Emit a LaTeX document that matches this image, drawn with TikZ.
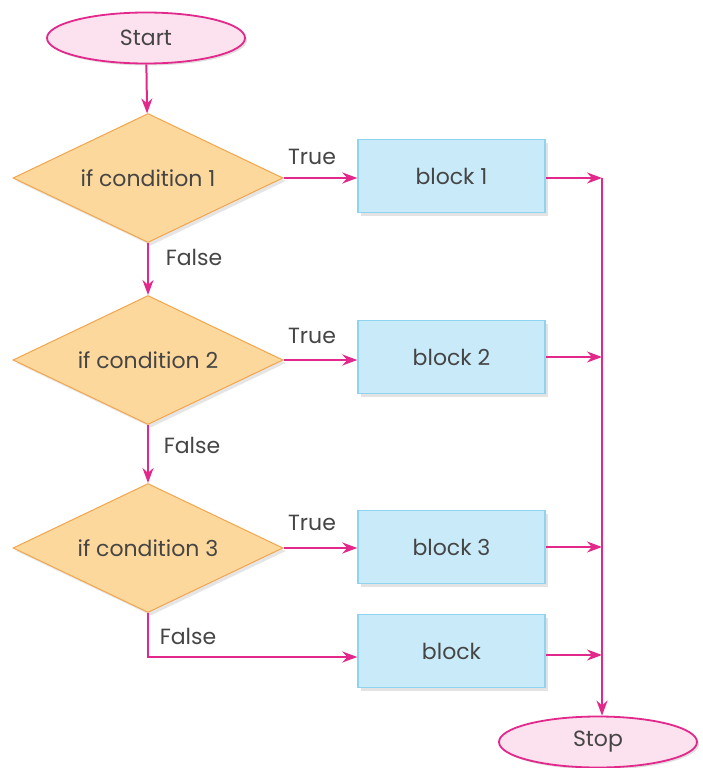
\documentclass[tikz,border=0pt]{standalone}
\usepackage{fontspec}
\setmainfont{Poppins}
\usetikzlibrary{shapes.geometric,arrows.meta,shadows}
\definecolor{mag}{HTML}{E3288C}
\definecolor{pinkfill}{HTML}{FCE1EE}
\definecolor{dfill}{HTML}{FDD89C}
\definecolor{dline}{HTML}{F2A54C}
\definecolor{bfill}{HTML}{C9EAF9}
\definecolor{bline}{HTML}{8ED4F1}
\definecolor{txt}{HTML}{454545}
\begin{document}
\begin{tikzpicture}[x=1pt,y=-1pt,
  every node/.style={text=txt,font=\fontsize{22}{26}\selectfont},
  term/.style={ellipse,draw=mag,fill=pinkfill,line width=1.8pt,minimum width=198pt,minimum height=51pt,inner sep=0pt,
    drop shadow={shadow xshift=2pt,shadow yshift=-2pt,fill=black!25}},
  cond/.style={diamond,draw=dline,fill=dfill,line width=1pt,minimum width=270pt,minimum height=129pt,inner sep=0pt,
    drop shadow={shadow xshift=3pt,shadow yshift=-3pt,fill=black!20}},
  blk/.style={rectangle,draw=bline,fill=bfill,line width=1.4pt,minimum width=187pt,minimum height=73pt,inner sep=0pt,
    drop shadow={shadow xshift=3pt,shadow yshift=-3pt,fill=black!22}},
  flow/.style={draw=mag,line width=2pt,-{Stealth[length=15pt,width=11pt]}},
  lab/.style={inner sep=0pt}]
\useasboundingbox (0,0) rectangle (703,768);
\node[term] (start) at (146,38) {Start};
\node[cond,label={center:if condition 1}] (c1) at (148,178) {};
\node[cond,label={center:if condition 2}] (c2) at (148,360) {};
\node[cond,label={center:if condition 3}] (c3) at (148,548) {};
\node[blk] (b1) at (451.5,176) {block 1};
\node[blk] (b2) at (451.5,357) {block 2};
\node[blk] (b3) at (451.5,547) {block 3};
\node[blk] (b4) at (451.5,651) {block};
\node[term] (stop) at (598,742) {Stop};
\coordinate (top) at (602,178);
\coordinate (j2) at (602,357);
\coordinate (j3) at (602,547);
\coordinate (j4) at (602,655);
\coordinate (corner) at (148,657);
\draw[flow] (start) -- (c1);
\draw[flow] (c1) -- (c2);
\draw[flow] (c2) -- (c3);
\draw[flow] (c1.east) -- (c1.east -| b1.west);
\draw[flow] (c2.east) -- (c2.east -| b2.west);
\draw[flow] (c3.east) -- (c3.east -| b3.west);
\draw[flow] (c3.south) -- (corner) -- (corner -| b4.west);
\draw[flow] (b1.east |- top) -- (top);
\draw[flow] (b2.east |- j2) -- (j2);
\draw[flow] (b3.east |- j3) -- (j3);
\draw[flow] (b4.east |- j4) -- (j4);
\draw[flow] (top) -- (stop.north -| top);
\node[lab] (t1) at (312,157) {True};
\node[lab] (t2) at (312,336) {True};
\node[lab] (t3) at (312,523) {True};
\node[lab] (f1) at (194,257) {False};
\node[lab] (f2) at (192,445) {False};
\node[lab] (f3) at (188,636) {False};
\end{tikzpicture}
\end{document}
